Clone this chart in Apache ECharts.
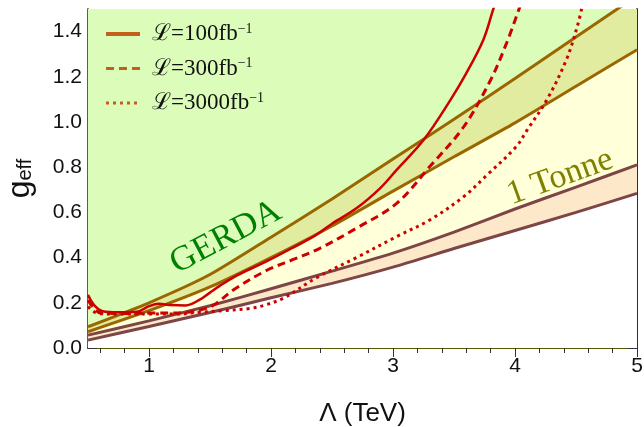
<!DOCTYPE html>
<html>
<head>
<meta charset="utf-8">
<script src="https://cdn.jsdelivr.net/npm/echarts@6/dist/echarts.min.js"></script>
<style>
  html, body { margin: 0; padding: 0; background: #fff; }
  #chart { width: 644px; height: 427px; }
</style>
</head>
<body>
<div id="chart"></div>
<script>
// band boundaries on a common Lambda grid (TeV)
var lam = [0.5, 1, 1.5, 2, 2.5, 3, 3.5, 4, 4.5, 5];
var gerdaUp = [0.094, 0.2, 0.325, 0.49, 0.659, 0.836, 1.012, 1.192, 1.376, 1.559];
var gerdaLo = [0.072, 0.165, 0.27, 0.40, 0.54, 0.694, 0.846, 0.996, 1.158, 1.32];
var tonneUp = [0.057, 0.12, 0.187, 0.262, 0.34, 0.42, 0.513, 0.615, 0.712, 0.81];
var tonneLo = [0.035, 0.095, 0.157, 0.222, 0.286, 0.358, 0.44, 0.52, 0.60, 0.684];

// LHC reach curves
var l100X = [0.5, 0.55, 0.62, 0.75, 0.9, 1.0, 1.08, 1.18, 1.3, 1.42, 1.5, 1.58, 1.7, 1.85, 1.97, 2.2, 2.37, 2.5, 2.7, 2.9, 3.03, 3.25, 3.47, 3.6, 3.74, 3.82, 3.84];
var l100Y = [0.235, 0.19, 0.163, 0.158, 0.16, 0.185, 0.196, 0.19, 0.188, 0.215, 0.245, 0.275, 0.315, 0.355, 0.385, 0.45, 0.5, 0.55, 0.618, 0.71, 0.788, 0.92, 1.097, 1.215, 1.363, 1.496, 1.53];
var l300X = [0.5, 0.55, 0.6, 0.8, 1.0, 1.2, 1.3, 1.42, 1.53, 1.7, 1.97, 2.2, 2.4, 2.7, 3.03, 3.3, 3.58, 3.8, 3.93, 4.04];
var l300Y = [0.212, 0.175, 0.156, 0.153, 0.155, 0.155, 0.158, 0.168, 0.19, 0.26, 0.345, 0.395, 0.441, 0.53, 0.64, 0.802, 0.979, 1.186, 1.348, 1.51];
var l3000X = [0.5, 0.55, 0.6, 0.8, 1.0, 1.2, 1.42, 1.6, 1.83, 1.95, 2.1, 2.37, 2.7, 3.03, 3.3, 3.58, 3.77, 4.01, 4.1, 4.26, 4.42, 4.51, 4.55];
var l3000Y = [0.183, 0.16, 0.152, 0.15, 0.15, 0.15, 0.158, 0.165, 0.175, 0.19, 0.22, 0.31, 0.4, 0.493, 0.566, 0.67, 0.765, 0.891, 0.965, 1.097, 1.274, 1.422, 1.51];

var xMajor = [1, 2, 3, 4, 5];
var xMinor = [0.6, 0.8, 1.2, 1.4, 1.6, 1.8, 2.2, 2.4, 2.6, 2.8, 3.2, 3.4, 3.6, 3.8, 4.2, 4.4, 4.6, 4.8];
var yMajor = [0, 0.2, 0.4, 0.6, 0.8, 1.0, 1.2, 1.4];
var yMinor = [0.05, 0.1, 0.15, 0.25, 0.3, 0.35, 0.45, 0.5, 0.55, 0.65, 0.7, 0.75, 0.85, 0.9, 0.95, 1.05, 1.1, 1.15, 1.25, 1.3, 1.35, 1.45];
var names = ['100', '300', '3000'];

function pairs(xs, ys) { return xs.map(function(x, i) { return [x, ys[i]]; }); }

var olive = '#5b5d00';
var frame = '#222';
var brown = '#996600';
var maroon = '#7d4646';
var red = '#cc0000';
var legendCol = '#c0601a';
var serif = '"Liberation Serif", "DejaVu Serif", serif';
var sans = '"Liberation Sans", Arial, sans-serif';

function xAx(pos, ticks, len, line, labels) {
  return {
    type: 'value', min: 0.5, max: 5, position: pos,
    axisLine: { show: true, lineStyle: { color: line, width: 1.5 } },
    axisTick: { show: true, inside: true, length: len, customValues: ticks, lineStyle: { color: '#333', width: 1 } },
    axisLabel: labels ? { show: true, customValues: ticks, color: '#111', fontSize: 21, fontFamily: sans, margin: 8 } : { show: false },
    splitLine: { show: false }
  };
}
function yAx(pos, ticks, len, line, labels) {
  return {
    type: 'value', min: 0, max: 1.5, position: pos,
    axisLine: { show: true, lineStyle: { color: line, width: 1.5 } },
    axisTick: { show: true, inside: true, length: len, customValues: ticks, lineStyle: { color: '#333', width: 1 } },
    axisLabel: labels ? { show: true, customValues: ticks, color: '#111', fontSize: 21, fontFamily: sans, margin: 6,
      formatter: function(v) { return v.toFixed(1); } } : { show: false },
    splitLine: { show: false }
  };
}

var xAxes = [xAx('bottom', xMajor, 9, frame, true), xAx('bottom', xMinor, 5, frame, false),
             xAx('top', xMajor, 9, olive, false), xAx('top', xMinor, 5, olive, false)];
xAxes[0].name = 'Λ (TeV)';
xAxes[0].nameLocation = 'middle';
xAxes[0].nameGap = 53;
xAxes[0].nameTextStyle = { fontSize: 26, color: '#111', fontFamily: sans };

var yAxes = [yAx('left', yMajor, 9, olive, true), yAx('left', yMinor, 5, olive, false),
             yAx('right', yMajor, 9, frame, false), yAx('right', yMinor, 5, frame, false)];
yAxes[0].name = '{g|g}{s|eff}';
yAxes[0].nameLocation = 'middle';
yAxes[0].nameGap = 52;
yAxes[0].nameTextStyle = { color: '#111', fontFamily: sans,
  rich: { g: { fontSize: 32, fontFamily: sans, color: '#111' },
          s: { fontSize: 20, fontFamily: sans, color: '#111', padding: [10, 0, 0, 0] } } };

function area(ys, col, origin) {
  return { type: 'line', data: pairs(lam, ys), symbol: 'none', silent: true, z: 1,
    lineStyle: { width: 0 }, areaStyle: { color: col, opacity: 1, origin: origin } };
}
function bound(ys, col) {
  return { type: 'line', data: pairs(lam, ys), symbol: 'none', silent: true, z: 3, smooth: 0.2,
    lineStyle: { color: col, width: 3 } };
}
function reach(name, xs, ys, type, w) {
  return { name: name, type: 'line', data: pairs(xs, ys), symbol: 'none', z: 4, smooth: 0.35,
    itemStyle: { color: red }, lineStyle: { color: red, width: w, type: type } };
}

var chart = echarts.init(document.getElementById('chart'), null, { renderer: 'canvas' });
chart.setOption({
  animation: false,
  grid: { left: 88, right: 7, top: 9, bottom: 79, outerBoundsMode: 'none', containLabel: false },
  xAxis: xAxes,
  yAxis: yAxes,
  legend: {
    orient: 'vertical', left: 99, top: 17, itemWidth: 34, itemHeight: 14, itemGap: 11,
    textStyle: { fontFamily: serif, fontSize: 23, color: '#111', lineHeight: 20, padding: [0, 0, 0, 7],
      rich: { a: { fontFamily: serif, fontSize: 23, color: '#111' },
              s: { fontFamily: serif, fontSize: 14, color: '#111', padding: [0, 0, 10, 0] } } },
    formatter: function(n) { return '{a|ℒ=' + n + 'fb}{s|−1}'; },
    data: names.map(function(n, i) {
      return { name: n, lineStyle: { color: legendCol, width: i === 0 ? 4 : 3 }, itemStyle: { opacity: 0 } };
    })
  },
  series: [
    area(gerdaUp, '#dcfcb9', 'end'),
    area(gerdaUp, '#e2eca0', 'start'),
    area(gerdaLo, '#ffffd9', 'start'),
    area(tonneUp, '#fde9c9', 'start'),
    area(tonneLo, '#ffffff', 'start'),
    bound(gerdaUp, brown), bound(gerdaLo, brown),
    bound(tonneUp, maroon), bound(tonneLo, maroon),
    reach(names[0], l100X, l100Y, 'solid', 2.5),
    reach(names[1], l300X, l300Y, [8, 5], 3),
    reach(names[2], l3000X, l3000Y, [3, 4], 3)
  ]
});

var gp = chart.convertToPixel({ gridIndex: 0 }, [1.63, 0.49]);
var tp = chart.convertToPixel({ gridIndex: 0 }, [4.37, 0.755]);
chart.setOption({
  graphic: [
    { type: 'text', x: gp[0], y: gp[1], rotation: 28 * Math.PI / 180, z: 10,
      style: { text: 'GERDA', fontFamily: serif, fontSize: 35, fill: '#008000', align: 'center', verticalAlign: 'middle' } },
    { type: 'text', x: tp[0], y: tp[1], rotation: 20 * Math.PI / 180, z: 10,
      style: { text: '1 Tonne', fontFamily: serif, fontSize: 34, fill: '#808000', align: 'center', verticalAlign: 'middle' } }
  ]
});
</script>
</body>
</html>
